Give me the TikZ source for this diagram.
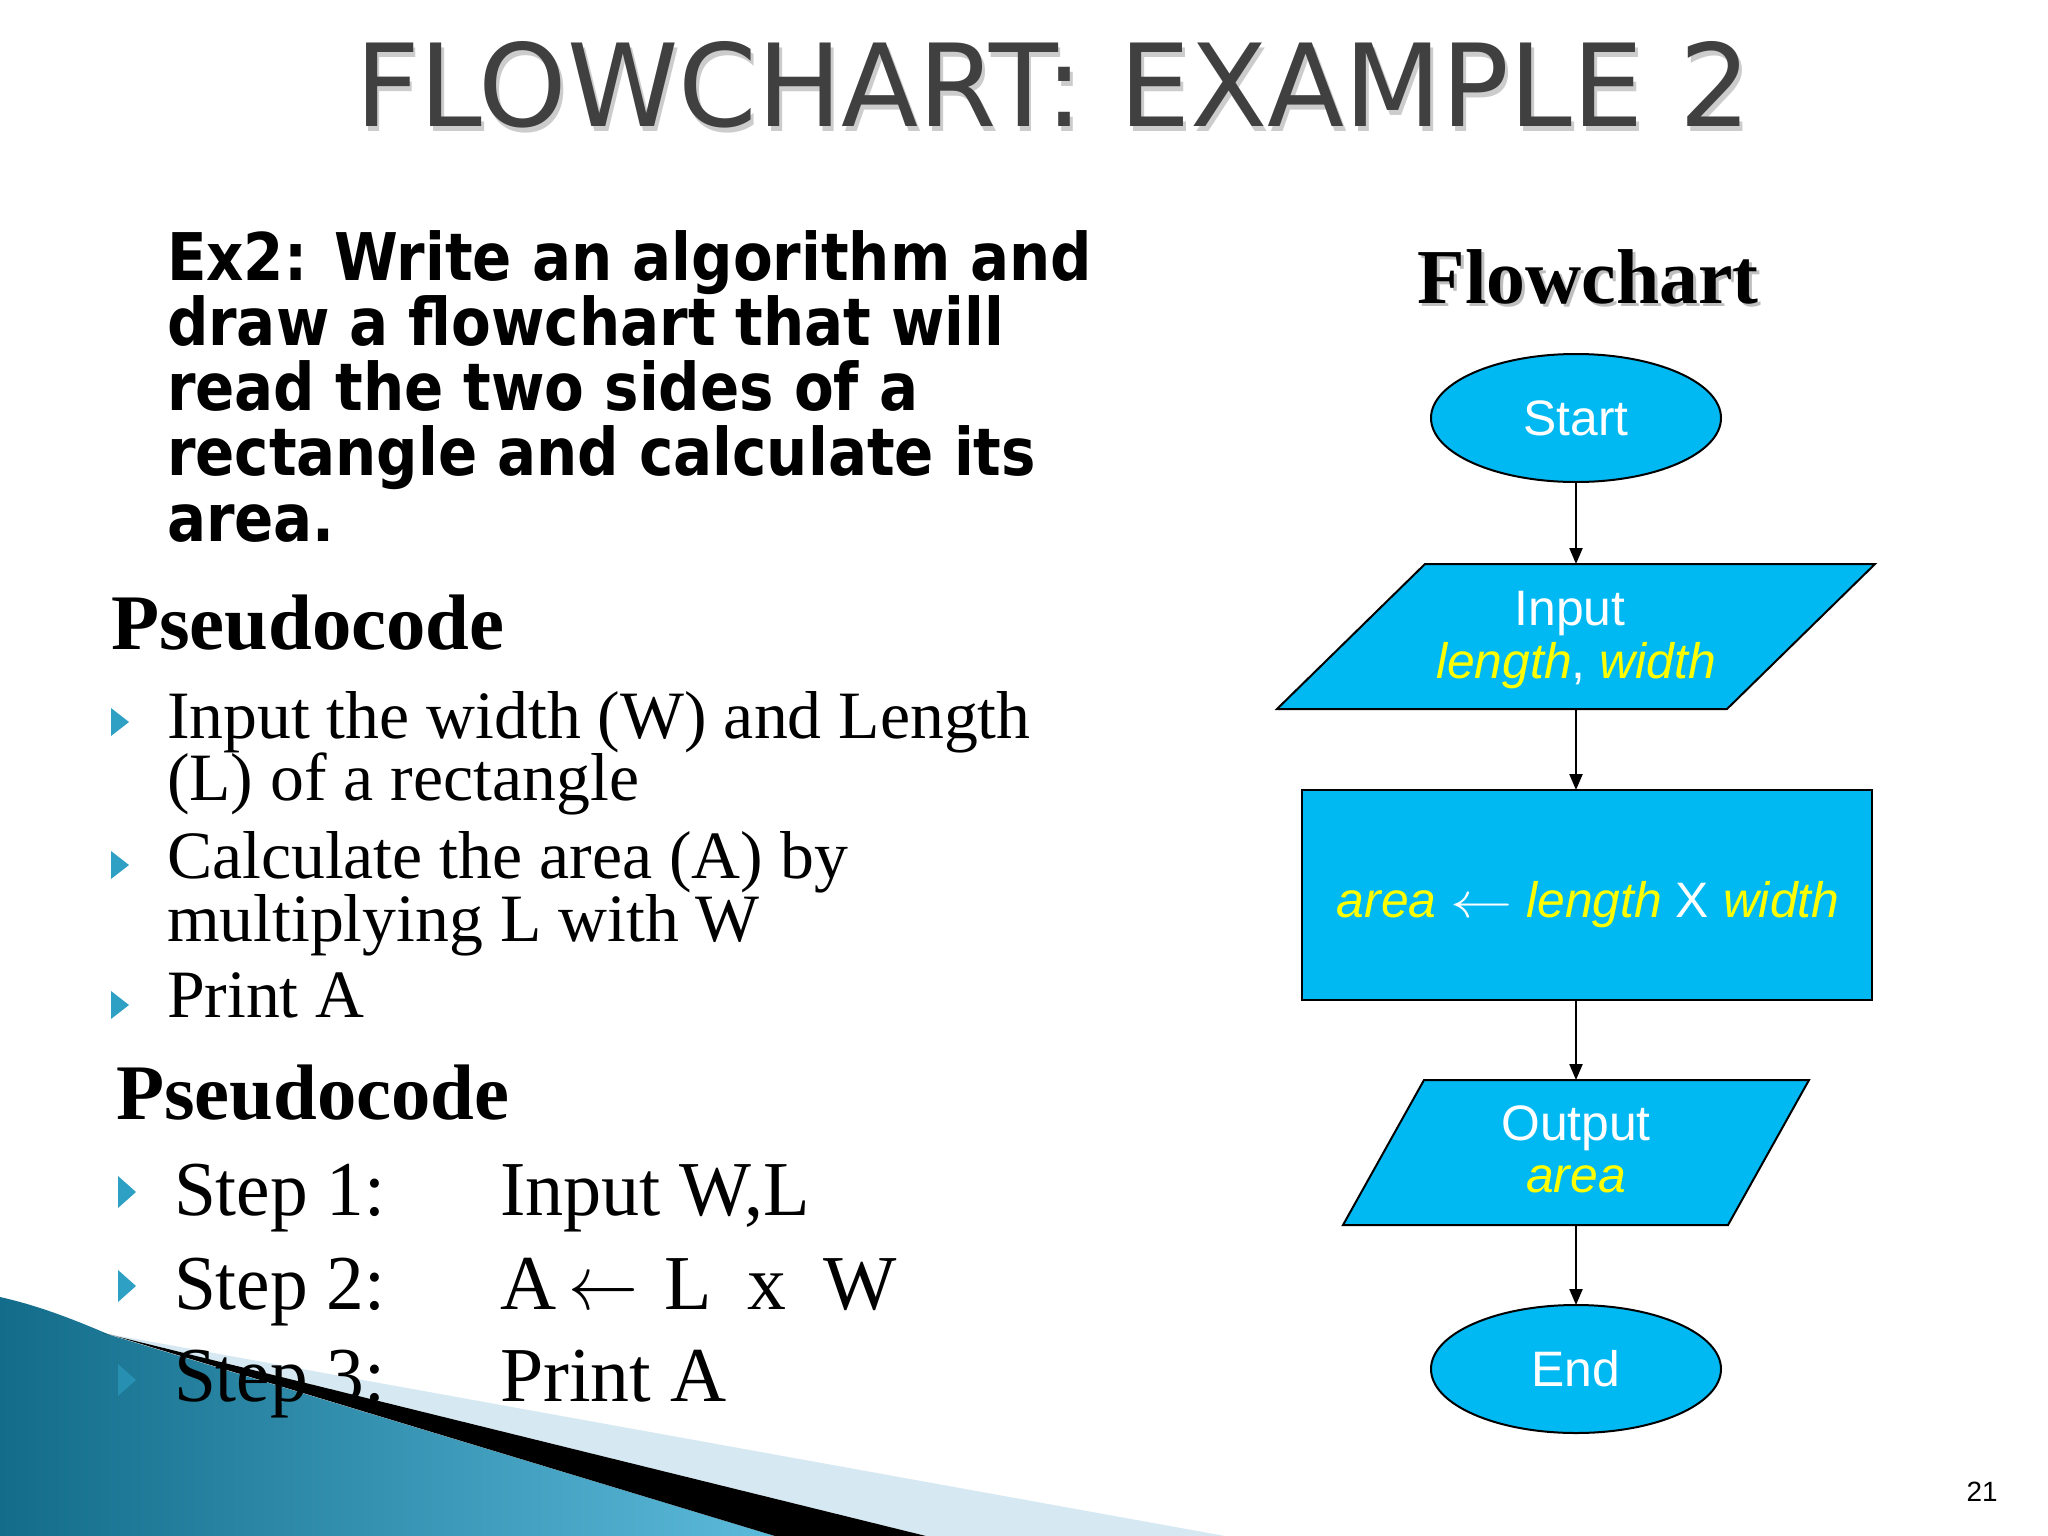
\RequirePackage{fix-cm}
\documentclass[tikz,border=0pt]{standalone}
\usepackage{fontspec}
\usepackage{graphicx}
\setmainfont{Liberation Serif}
\newfontfamily\dejavu{DejaVu Sans}
\newfontfamily\arialf{Liberation Sans}
\usetikzlibrary{shapes.geometric,arrows.meta}
\definecolor{fcblue}{RGB}{0,185,242}
\definecolor{fcyellow}{RGB}{255,255,0}
\definecolor{titlegray}{RGB}{64,64,64}
\definecolor{bullteal}{RGB}{46,160,196}
\definecolor{paleband}{RGB}{214,233,242}
\definecolor{tealdark}{RGB}{18,108,138}
\definecolor{teallight}{RGB}{92,186,218}
\newcommand{\fsz}[1]{\fontsize{#1}{#1}\selectfont}
\newcommand{\yl}[1]{\textcolor{fcyellow}{\itshape #1}}
\newcommand{\shadowed}[4]{\makebox[0pt][l]{\hspace{#2}\raisebox{-#3}{\textcolor{#4}{#1}}}#1}
\begin{document}
\begin{tikzpicture}[x=1bp,y=-1bp,
  every node/.style={inner sep=0pt, outer sep=0pt},
  shapeline/.style={draw=black, line width=2bp, fill=fcblue},
  term/.style={shapeline, ellipse, minimum width=290bp, minimum height=128bp, text=white, font=\arialf\fsz{50}},
  procbox/.style={shapeline, rectangle, minimum width=570bp, minimum height=210bp},
  ioanchor/.style={rectangle, minimum width=300bp, minimum height=145bp},
  flowarrow/.style={line width=2.2bp, -{Triangle[length=16bp,width=13bp]}},
  fctext/.style={font=\arialf\fsz{50}, text=white, anchor=base},
  extext/.style={font=\dejavu\bfseries\fsz{66}, anchor=base west},
  pseudohead/.style={font=\bfseries\fsz{79}, anchor=base west},
  listtext/.style={font=\fsz{68}, anchor=base west},
  steptext/.style={font=\fsz{78}, anchor=base west},
  bullet/.style={fill=bullteal}
]
\useasboundingbox (0,0) rectangle (2048,1536);
\fill[white] (0,0) rectangle (2048,1536);

% bottom-left decoration
\fill[paleband] (103,1333) -- (1225,1536) -- (926,1536) -- cycle;
\shade[left color=tealdark, right color=teallight] (0,1297) .. controls (40,1306) and (75,1320) .. (110,1335) -- (775,1536) -- (0,1536) -- cycle;
\fill[black] (103,1333) -- (926,1536) -- (775,1536) -- (115,1336) -- cycle;

% title
\node[anchor=base, text=titlegray, font=\dejavu\fsz{115}] (title) at (1053,127)
  {\scalebox{0.983}[1]{\shadowed{FLOWCHART: EXAMPLE 2}{3bp}{5bp}{gray!40}}};

% problem statement
\node[extext] (ex1) at (167,280) {\scalebox{0.88}[1]{Ex2: Write an algorithm and}};
\node[extext] (ex2) at (167,345) {\scalebox{0.88}[1]{draw a flowchart that will}};
\node[extext] (ex3) at (167,410) {\scalebox{0.88}[1]{read the two sides of a}};
\node[extext] (ex4) at (167,475) {\scalebox{0.88}[1]{rectangle and calculate its}};
\node[extext] (ex5) at (167,541) {\scalebox{0.88}[1]{area.}};

% pseudocode 1
\node[pseudohead] (ph1) at (111,649) {Pseudocode};
\fill[bullet] (111,708) -- (129,722) -- (111,736) -- cycle;
\fill[bullet] (111,851) -- (129,865) -- (111,879) -- cycle;
\fill[bullet] (111,991) -- (129,1005) -- (111,1019) -- cycle;
\node[listtext] (l1) at (167,738) {Input the width (W) and Length};
\node[listtext] (l2) at (167,800) {(L) of a rectangle};
\node[listtext] (l3) at (167,878) {Calculate the area (A) by};
\node[listtext] (l4) at (167,941) {multiplying L with W};
\node[listtext] (l5) at (167,1017) {Print A};

% pseudocode 2
\node[pseudohead] (ph2) at (116,1119) {Pseudocode};
\fill[bullet] (118,1176) -- (136,1192) -- (118,1208) -- cycle;
\fill[bullet] (118,1270) -- (136,1286) -- (118,1302) -- cycle;
\fill[bullet, opacity=0.6] (118,1364) -- (136,1380) -- (118,1396) -- cycle;
\node[steptext] (s1) at (174,1215) {\scalebox{0.97}[1]{Step 1:}};
\node[steptext] (s2) at (174,1309) {\scalebox{0.97}[1]{Step 2:}};
\node[steptext] (s3) at (174,1401) {\scalebox{0.97}[1]{Step 3:}};
\node[steptext] (a1) at (500,1215) {\scalebox{0.98}[1]{Input W,L}};
\node[steptext] (a2) at (500,1309) {\makebox[68bp][l]{A}\makebox[96bp][l]{\scalebox{0.9}[1]{$\leftarrow$}}\makebox[83bp][l]{L}\makebox[76bp][l]{x}W};
\node[steptext] (a3) at (500,1401) {Print A};

% flowchart heading
\node[anchor=base, font=\bfseries\fsz{78}] (fh) at (1588,303) {\shadowed{Flowchart}{3bp}{3bp}{gray!50}};

% flowchart
\node[term] (start) at (1576,418) {Start};

\node[ioanchor] (in) at (1576,636.5) {};
\fill[fcblue] (1425,564) -- (1875,564) -- (1727,709) -- (1277,709) -- cycle;
\draw[line width=2bp, line join=miter] (1425,564) -- (1875,564) -- (1727,709) -- (1277,709) -- cycle;
\node[fctext] (intext1) at (1570,625) {Input};
\node[fctext] (intext2) at (1576,678) {\yl{length}, \yl{width}};

\node[procbox] (proc) at (1587,895) {};
\node[fctext] (proctext) at (1588,917) {\yl{area} \scalebox{1.25}[1]{$\leftarrow$} \yl{length} X \yl{width}};

\node[ioanchor] (out) at (1576,1152.5) {};
\fill[fcblue] (1424,1080) -- (1809,1080) -- (1728,1225) -- (1343,1225) -- cycle;
\draw[line width=2bp, line join=miter] (1424,1080) -- (1809,1080) -- (1728,1225) -- (1343,1225) -- cycle;
\node[fctext] (outtext1) at (1576,1140) {Output};
\node[fctext] (outtext2) at (1576,1192) {\yl{area}};

\node[term] (end) at (1576,1369) {End};

\draw[flowarrow] (start.south) -- (in.north);
\draw[flowarrow] (in.south) -- (in.south |- proc.north);
\draw[flowarrow] (in.south |- proc.south) -- (out.north);
\draw[flowarrow] (out.south) -- (end.north);

% slide number
\node[anchor=base, font=\arialf\fsz{28}] (pagenum) at (1982,1501) {21};
\end{tikzpicture}
\end{document}
